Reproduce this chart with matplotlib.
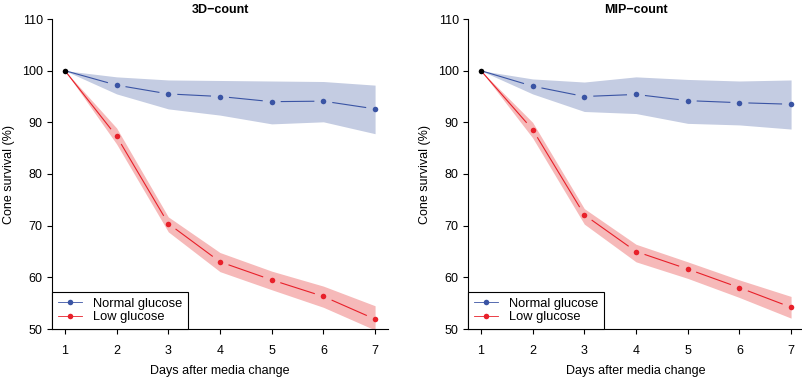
import numpy as np
import matplotlib
matplotlib.use("Agg")
import matplotlib.pyplot as plt
from matplotlib.lines import Line2D

plt.rcParams['font.family'] = ['Liberation Sans', 'DejaVu Sans']

days = [1, 2, 3, 4, 5, 6, 7]

# 3D-count
normal_3d = [100, 97.2, 95.5, 95.0, 94.0, 94.1, 92.6]
normal_3d_hi = [100, 98.8, 98.2, 98.1, 98.0, 97.9, 97.2]
normal_3d_lo = [100, 95.5, 92.6, 91.4, 89.7, 90.1, 87.8]
low_3d = [100, 87.3, 70.4, 63.0, 59.5, 56.3, 51.9]
low_3d_hi = [100, 88.9, 71.7, 64.8, 61.2, 58.3, 54.5]
low_3d_lo = [100, 85.8, 68.8, 61.1, 57.6, 54.2, 49.8]

# MIP-count
normal_mip = [100, 97.0, 95.0, 95.4, 94.2, 93.8, 93.5]
normal_mip_hi = [100, 98.4, 97.8, 98.8, 98.3, 98.0, 98.2]
normal_mip_lo = [100, 95.5, 92.1, 91.7, 89.8, 89.5, 88.7]
low_mip = [100, 88.6, 72.1, 65.0, 61.6, 58.0, 54.2]
low_mip_hi = [100, 90.0, 73.3, 66.4, 63.0, 59.5, 56.3]
low_mip_lo = [100, 87.0, 70.3, 63.0, 59.8, 56.1, 52.1]

panels = [
    ("3D\u2212count", normal_3d, normal_3d_lo, normal_3d_hi, low_3d, low_3d_lo, low_3d_hi),
    ("MIP\u2212count", normal_mip, normal_mip_lo, normal_mip_hi, low_mip, low_mip_lo, low_mip_hi),
]

blue = '#3a54a4'
blue_band = '#c4cce2'
red = '#e8202a'
red_band = '#f6b9b9'
fs = 9


def gapped_line(ax, x, y, color, gap=9.0, first_gap=2.0):
    # R type="b": segments stop short of the points
    pts = ax.transData.transform(np.column_stack([x, y]))
    inv = ax.transData.inverted()
    for i, (p0, p1) in enumerate(zip(pts[:-1], pts[1:])):
        d = p1 - p0
        L = np.hypot(*d)
        g0 = first_gap if i == 0 else gap
        if L <= g0 + gap:
            continue
        u = d / L
        a = inv.transform(p0 + u * g0)
        b = inv.transform(p1 - u * gap)
        ax.plot([a[0], b[0]], [a[1], b[1]], color=color, lw=0.8, solid_capstyle='butt')


fig = plt.figure(figsize=(8.02, 3.81), dpi=100)
lefts = [52 / 802, 468 / 802]

for left, (title, nm, nlo, nhi, lw_, llo, lhi) in zip(lefts, panels):
    ax = fig.add_axes([left, 52 / 381, 336 / 802, 310 / 381])
    ax.set_xlim(0.75, 7.25)
    ax.set_ylim(50, 110)

    ax.fill_between(days, nlo, nhi, color=blue_band, lw=0)
    ax.fill_between(days, llo, lhi, color=red_band, lw=0)

    gapped_line(ax, days, nm, blue)
    gapped_line(ax, days, lw_, red)
    ax.plot(days[1:], nm[1:], 'o', color=blue, ms=4, mec='none')
    ax.plot(days[1:], lw_[1:], 'o', color=red, ms=4, mec='none')
    ax.plot(days[:1], nm[:1], 'o', color='black', ms=4, mec='none')

    for s in ['top', 'right']:
        ax.spines[s].set_visible(False)
    ax.spines['left'].set_linewidth(0.8)
    ax.spines['bottom'].set_linewidth(0.8)
    ax.spines['left'].set_bounds(50, 110)
    ax.set_xticks(days)
    ax.set_yticks([50, 60, 70, 80, 90, 100, 110])
    ax.tick_params(direction='out', length=3.6, width=0.8, labelsize=fs, pad=3)
    ax.tick_params(axis='x', pad=8)
    ax.set_xlabel("Days after media change", fontsize=fs, labelpad=6)
    ax.set_ylabel("Cone survival (%)", fontsize=fs)
    ax.yaxis.set_label_coords(-0.11, 0.5)
    ax.set_title(title, fontsize=fs, fontweight='bold', pad=4)

    handles = [
        Line2D([], [], color=blue, lw=0.6, marker='o', ms=4, mec='none'),
        Line2D([], [], color=red, lw=0.6, marker='o', ms=4, mec='none'),
    ]
    leg = ax.legend(handles, ["Normal glucose", "Low glucose"], loc='lower left',
                    bbox_to_anchor=(0, 0), borderaxespad=0, fontsize=fs + 0.3,
                    frameon=True, fancybox=False, handlelength=1.9,
                    handletextpad=0.8, labelspacing=0.12, borderpad=0.45)
    leg.get_frame().set_edgecolor('black')
    leg.get_frame().set_linewidth(0.8)
    leg.get_frame().set_alpha(1)

fig.savefig("out.png", dpi=100)
